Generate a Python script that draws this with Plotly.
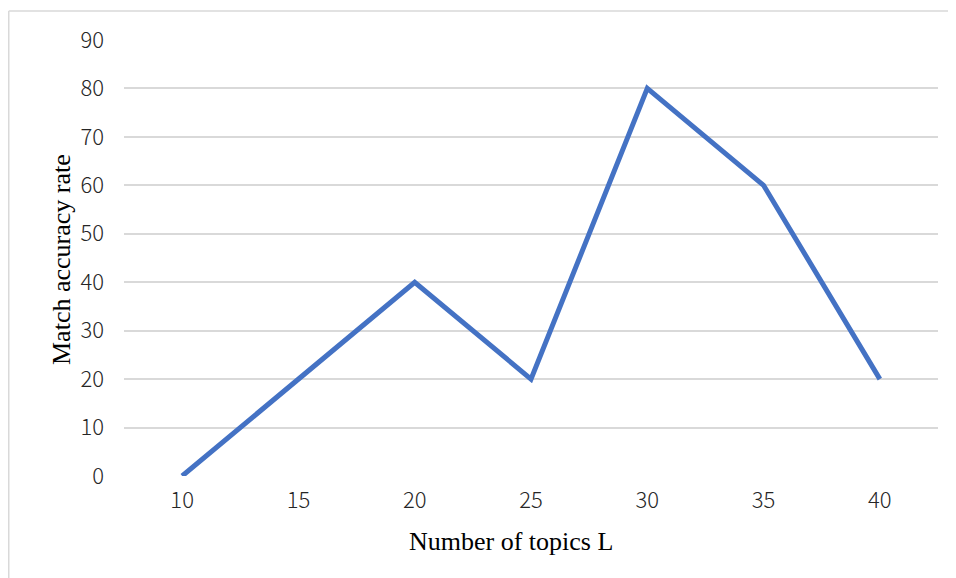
import plotly.graph_objects as go

categories = ["10", "15", "20", "25", "30", "35", "40"]
accuracy = [0, 20, 40, 20, 80, 60, 20]
y_ticks = [0, 10, 20, 30, 40, 50, 60, 70, 80, 90]

W, H = 956, 578
OFF = 8  # page body margin
L, T = 124 - OFF, 40 - OFF
pw, ph = 814, 436
R, B = W - L - pw, H - T - ph

def px(sx):
    return (sx - OFF - L) / pw

def py(sy):
    return (T + ph - (sy - OFF)) / ph

fig = go.Figure()
fig.add_trace(go.Scatter(
    x=categories, y=accuracy, mode="lines",
    line=dict(color="#4472C4", width=5),
    hoverinfo="x+y", showlegend=False,
))

tick_font = dict(family="Noto Sans CJK SC, Noto Sans, sans-serif", size=22,
                 color="#262626", weight=300)
title_font = dict(family="Liberation Serif, Times New Roman, serif", size=26, color="#000000")

fig.update_layout(
    width=W, height=H,
    margin=dict(l=L, r=R, t=T, b=B),
    paper_bgcolor="white", plot_bgcolor="white",
    xaxis=dict(
        type="category", range=[-0.5, 6.5],
        showgrid=False, zeroline=False, showline=False,
        ticks="", tickfont=tick_font, ticklabelstandoff=9,
        fixedrange=True,
    ),
    yaxis=dict(
        range=[0, 90], tickvals=y_ticks,
        showgrid=True, gridcolor="#D9D9D9", gridwidth=1.6,
        zeroline=False, showline=False, ticks="",
        tickfont=tick_font, ticklabelstandoff=19,
        fixedrange=True,
    ),
    annotations=[
        dict(text="Number of topics L", xref="paper", yref="paper",
             x=px(511), y=py(541), xanchor="center", yanchor="middle",
             showarrow=False, font=title_font),
        dict(text="Match accuracy rate", xref="paper", yref="paper",
             x=px(62), y=py(259), xanchor="center", yanchor="middle",
             textangle=-90, showarrow=False, font=title_font),
    ],
    shapes=[
        dict(type="line", xref="paper", yref="paper",
             x0=px(8.75), x1=px(970), y0=py(11), y1=py(11),
             line=dict(color="#D9D9D9", width=1.5)),
        dict(type="line", xref="paper", yref="paper",
             x0=px(8.75), x1=px(8.75), y0=py(11), y1=py(590),
             line=dict(color="#D9D9D9", width=1.5)),
    ],
)

fig.write_html("out.html")
